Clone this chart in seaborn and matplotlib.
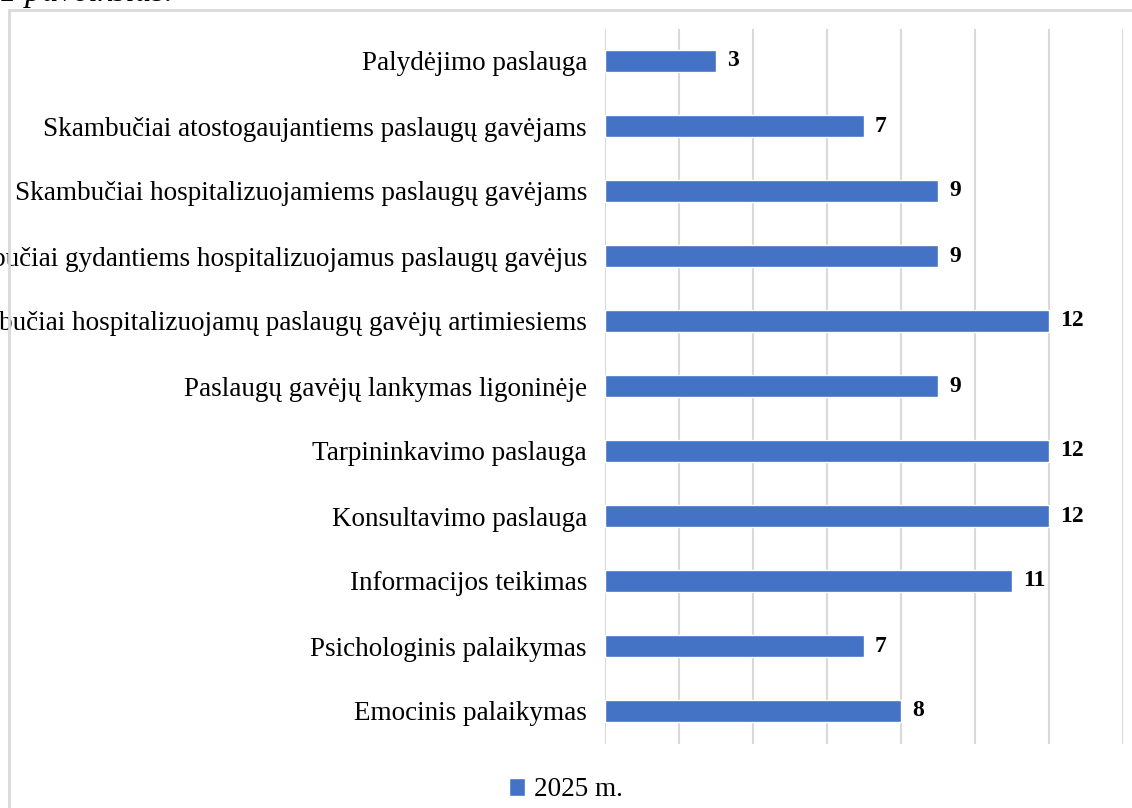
import pandas as pd
import numpy as np
import matplotlib
matplotlib.use("Agg")
import matplotlib.pyplot as plt
import seaborn as sns
from matplotlib.patches import Rectangle

# data (top to bottom)
services = ["Palydėjimo paslauga",
            "Skambučiai atostogaujantiems paslaugų gavėjams",
            "Skambučiai hospitalizuojamiems paslaugų gavėjams",
            "Skambučiai gydantiems hospitalizuojamus paslaugų gavėjus",
            "Skambučiai hospitalizuojamų paslaugų gavėjų artimiesiems",
            "Paslaugų gavėjų lankymas ligoninėje",
            "Tarpininkavimo paslauga",
            "Konsultavimo paslauga",
            "Informacijos teikimas",
            "Psichologinis palaikymas",
            "Emocinis palaikymas"]
counts = [3, 7, 9, 9, 12, 9, 12, 12, 11, 7, 8]
series_name = "2025 m."

df = pd.DataFrame({"Paslauga": services, "Kiekis": counts})

sns.set_style("white")
plt.rcParams["font.family"] = ["Liberation Serif", "DejaVu Serif"]
plt.rcParams["text.color"] = "black"
plt.rcParams["ytick.color"] = "black"

fig = plt.figure(figsize=(11.32, 8.08), dpi=100)
ax = fig.add_axes([605/1132, 1-743.5/808, 518/1132, 715/808])

blue = "#4472C4"
sns.barplot(data=df, y="Paslauga", x="Kiekis", orient="h", color=blue,
            width=0.34, saturation=1, ax=ax, label=series_name)

ax.set_xlim(0, 14)
ax.set_xticks(np.arange(0, 15, 2))
ax.set_xticklabels([])
ax.grid(axis="x", color="#d9d9d9", linewidth=1.5)
ax.set_axisbelow(True)
for s in ax.spines.values():
    s.set_visible(False)
ax.tick_params(axis="both", length=0)
ax.tick_params(axis="y", labelsize=19.5, pad=13, labelcolor="black")
ax.set_xlabel("")
ax.set_ylabel("")

for c in ax.containers:
    ax.bar_label(c, padding=8, fontsize=17, fontweight="bold", color="black",
                 family="Liberation Serif")

ax.legend(loc="center", bbox_to_anchor=(566/1132, 1-790/808),
          bbox_transform=fig.transFigure, frameon=False, fontsize=19.5,
          handlelength=0.6, handleheight=0.6, handletextpad=0.35)

# outer frame of the chart area
fig.patches.append(Rectangle((9/1132, -0.05), 1.2, 1-10/808+0.05,
                             transform=fig.transFigure, fill=False,
                             edgecolor="#d9d9d9", linewidth=2, zorder=0))
# caption above the chart, mostly cut off by the top edge
fig.text(0.0, 1-1.5/808, "1 paveikslas.", fontsize=24, style="italic",
         va="baseline", ha="left", color="black")

fig.savefig("out.png", dpi=100)
